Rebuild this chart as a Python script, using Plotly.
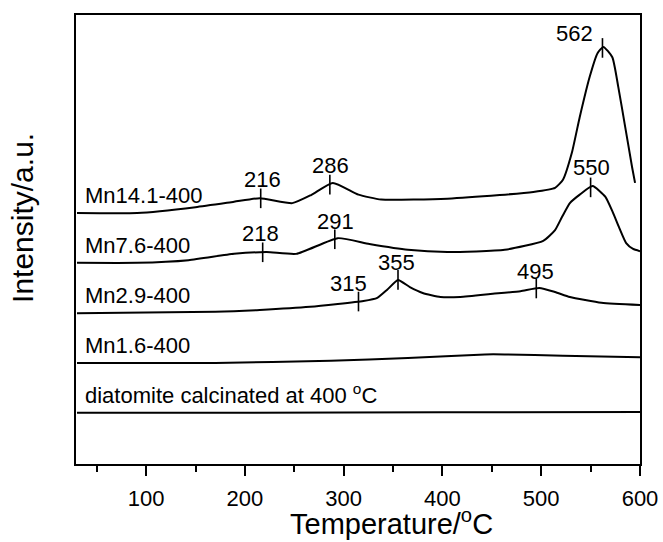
import numpy as np
import plotly.graph_objects as go

# ---------------- data ----------------
temp_mn141 = [30, 91, 150, 189, 215, 248, 267, 289, 315, 338, 405, 458, 492, 514, 522, 531, 539, 549, 557, 563, 572, 578, 585, 592, 595]
int_mn141 = [55.9, 55.9, 57.2, 58.4, 59.2, 58.1, 59.9, 62.6, 60.0, 58.9, 59.1, 59.9, 60.6, 61.5, 63.3, 69.3, 77.3, 86.2, 91.5, 92.9, 90.6, 84.0, 75.1, 66.1, 62.6]

temp_mn76 = [30, 91, 143, 189, 222, 252, 294, 326, 365, 405, 463, 502, 514, 521, 529, 539, 552, 565, 572, 579, 586, 593, 600]
int_mn76 = [44.8, 44.8, 45.4, 46.8, 47.2, 46.8, 50.3, 49.0, 47.7, 47.2, 47.7, 49.7, 52.1, 55.0, 58.1, 60.0, 61.9, 59.5, 56.3, 52.6, 49.2, 47.9, 47.4]

temp_mn29 = [30, 170, 215, 266, 320, 334, 344, 355, 367, 380, 398, 418, 451, 479, 498, 514, 529, 561, 600]
int_mn29 = [33.6, 33.9, 34.3, 35.0, 36.3, 37.0, 38.8, 41.0, 39.4, 38.1, 37.2, 37.2, 37.9, 38.5, 39.2, 38.3, 37.2, 35.9, 35.4]

temp_mn16 = [30, 170, 287, 365, 443, 463, 522, 600]
int_mn16 = [22.5, 22.5, 23.0, 23.6, 24.4, 24.4, 24.1, 23.8]

temp_dia = [30, 200, 400, 600]
int_dia = [11.4, 11.4, 11.5, 11.6]

series_names = ["Mn14.1-400", "Mn7.6-400", "Mn2.9-400", "Mn1.6-400",
                "diatomite calcinated at 400 <sup>o</sup>C"]

peaks_mn141 = [216, 286, 562]
peaks_mn76 = [218, 291, 550]
peaks_mn29 = [315, 355, 495]

x_ticks = [100, 200, 300, 400, 500, 600]

# ---------------- styling ----------------
FONT = "Liberation Sans, Arial, sans-serif"
# label offsets in pixels (xshift, yshift) per peak label
label_offsets = {562: (-28, 0), 315: (-10, 4), 216: (2, 4), 286: (1, 5),
                 218: (-2, 4), 291: (1, 3), 550: (1, 5), 355: (-2, 3), 495: (-1, 2)}

series = [
    (temp_mn141, int_mn141, peaks_mn141),
    (temp_mn76, int_mn76, peaks_mn76),
    (temp_mn29, int_mn29, peaks_mn29),
    (temp_mn16, int_mn16, []),
    (temp_dia, int_dia, []),
]

fig = go.Figure()
annotations = []
for (t, v, peaks), name in zip(series, series_names):
    fig.add_trace(go.Scatter(x=t, y=v, mode="lines",
                             line=dict(color="black", width=2, shape="spline", smoothing=0.5),
                             showlegend=False, hoverinfo="skip"))
    if peaks:
        py = list(np.interp(peaks, t, v))
        fig.add_trace(go.Scatter(x=peaks, y=py, mode="markers",
                                 marker=dict(symbol="line-ns", size=14,
                                             line=dict(color="black", width=1.6)),
                                 showlegend=False, hoverinfo="skip"))
        for p, yy in zip(peaks, py):
            dx, dy = label_offsets.get(p, (0, 4))
            annotations.append(dict(x=p, y=yy, xref="x", yref="y", text=str(p),
                                    showarrow=False, xanchor="center", yanchor="bottom",
                                    xshift=dx, yshift=dy,
                                    font=dict(family=FONT, size=22, color="black")))
    annotations.append(dict(x=36, y=v[0], xref="x", yref="y", text=name,
                            showarrow=False, xanchor="left", yanchor="bottom", yshift=3,
                            font=dict(family=FONT, size=22, color="black")))

# axis titles
annotations.append(dict(x=0.56, y=0, xref="paper", yref="paper",
                        text="Temperature/<sup>o</sup>C", showarrow=False,
                        xanchor="center", yanchor="bottom", yshift=-78,
                        font=dict(family=FONT, size=29, color="black")))
annotations.append(dict(x=0, y=0.548, xref="paper", yref="paper",
                        text="Intensity/a.u.", showarrow=False, textangle=-90,
                        xanchor="center", yanchor="middle", xshift=-53,
                        font=dict(family=FONT, size=30, color="black")))

fig.update_layout(
    width=663, height=542,
    margin=dict(l=76, r=23, t=15, b=78, autoexpand=False),
    paper_bgcolor="white", plot_bgcolor="white",
    annotations=annotations,
    font=dict(family=FONT, color="black"),
)
fig.update_xaxes(range=[29, 600], tickvals=x_ticks, ticks="outside", ticklen=10, tickwidth=2,
                 tickcolor="black", showline=True, linewidth=2, linecolor="black", mirror=True,
                 showgrid=False, zeroline=False, ticklabelstandoff=4, automargin=False,
                 tickfont=dict(family=FONT, size=22, color="black"),
                 minor=dict(tickvals=[50, 150, 250, 350, 450, 550], ticks="outside",
                            ticklen=6, tickwidth=2, tickcolor="black", showgrid=False))
fig.update_yaxes(range=[0, 100], showticklabels=False, ticks="", showline=True, linewidth=2,
                 linecolor="black", mirror=True, showgrid=False, zeroline=False, automargin=False)

fig.write_html("out.html", config={"displayModeBar": False},
               post_script="document.body.style.margin='0';document.body.style.overflow='hidden';")
